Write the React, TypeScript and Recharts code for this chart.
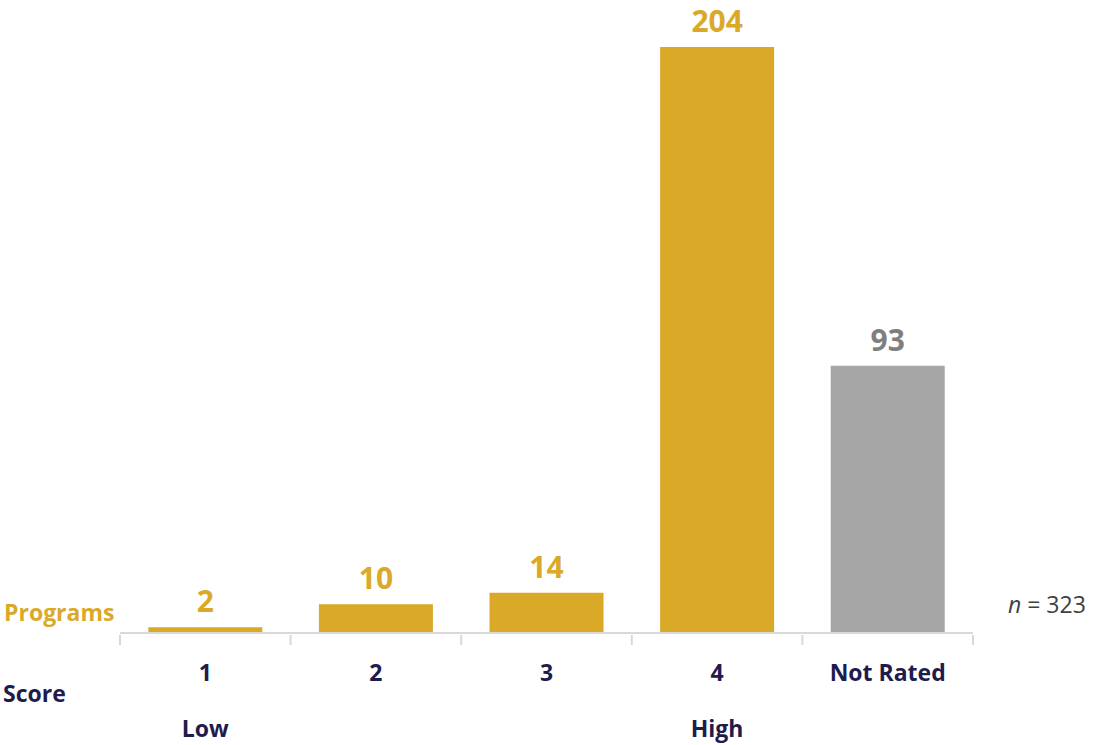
import { Bar, BarChart, Cell, LabelList, XAxis, YAxis } from 'recharts'

const categories = ['1', '2', '3', '4', 'Not Rated']
const scaleNotes = ['Low', '', '', 'High', '']
const programs = [2, 10, 14, 204, 93]
const rated = [true, true, true, true, false]

const GOLD = '#DAA928'
const GREY = '#A6A6A6'
const GREY_TEXT = '#7F7F7F'
const NAVY = '#1F1B4D'
const AXIS = '#D9D9D9'
const FONT = '"Open Sans", sans-serif'

const data = categories.map((c, i) => ({
  category: c,
  note: scaleNotes[i],
  programs: programs[i],
  rated: rated[i],
}))

interface TickProps {
  x?: number
  y?: number
  index?: number
  payload?: { value: string; offset?: number; index?: number }
}

function ScoreTick({ x = 0, y = 0, payload, index = 0 }: TickProps) {
  const half = payload?.offset ?? 85.3
  const i = payload?.index ?? index
  const axisY = y - 6
  const last = i === categories.length - 1
  return (
    <g>
      <line x1={x - half} x2={x - half} y1={axisY} y2={axisY + 10} stroke={AXIS} strokeWidth={2} />
      {last && <line x1={x + half} x2={x + half} y1={axisY} y2={axisY + 10} stroke={AXIS} strokeWidth={2} />}
      <text
        x={x}
        y={axisY + 37}
        textAnchor="middle"
        dominantBaseline="central"
        fill={NAVY}
        fontSize={23}
        fontWeight={700}
        fontFamily={FONT}
      >
        {payload?.value}
      </text>
      {scaleNotes[i] && (
        <text
          x={x}
          y={axisY + 93}
          textAnchor="middle"
          dominantBaseline="central"
          fill={NAVY}
          fontSize={23}
          fontWeight={700}
          fontFamily={FONT}
        >
          {scaleNotes[i]}
        </text>
      )}
    </g>
  )
}

interface LabelProps {
  x?: number
  y?: number
  width?: number
  value?: number
  index?: number
}

function ValueLabel({ x = 0, y = 0, width = 0, value, index = 0 }: LabelProps) {
  return (
    <text
      x={Number(x) + Number(width) / 2}
      y={Number(y) - 15}
      textAnchor="middle"
      fill={rated[index] ? GOLD : GREY_TEXT}
      fontSize={30}
      fontWeight={700}
      fontFamily={FONT}
    >
      {value}
    </text>
  )
}

export default function App() {
  return (
    <div style={{ position: 'absolute', left: 0, top: 0, width: 1094, height: 745, background: '#fff' }}>
      <BarChart
        width={1094}
        height={745}
        data={data}
        margin={{ top: 47, right: 121, left: 120, bottom: 0 }}
        barCategoryGap="16.6%"
        style={{ overflow: 'visible' }}
      >
        <XAxis
          dataKey="category"
          height={112}
          axisLine={{ stroke: AXIS, strokeWidth: 2 }}
          tickLine={false}
          tick={<ScoreTick />}
          interval={0}
        />
        <YAxis hide domain={[0, 204]} />
        <Bar dataKey="programs" isAnimationActive={false}>
          {data.map((d, i) => (
            <Cell key={i} fill={d.rated ? GOLD : GREY} />
          ))}
          <LabelList dataKey="programs" content={<ValueLabel />} />
        </Bar>
      </BarChart>
      <div
        style={{
          position: 'absolute',
          left: 4,
          top: 597,
          fontFamily: FONT,
          fontWeight: 700,
          fontSize: 23,
          color: GOLD,
          lineHeight: '30px',
        }}
      >
        Programs
      </div>
      <div
        style={{
          position: 'absolute',
          left: 3,
          top: 678,
          fontFamily: FONT,
          fontWeight: 700,
          fontSize: 23,
          color: NAVY,
          lineHeight: '30px',
        }}
      >
        Score
      </div>
      <div
        style={{
          position: 'absolute',
          left: 1008,
          top: 589,
          fontFamily: FONT,
          fontSize: 23,
          color: '#404040',
          lineHeight: '30px',
        }}
      >
        <i>n</i> = 323
      </div>
    </div>
  )
}
